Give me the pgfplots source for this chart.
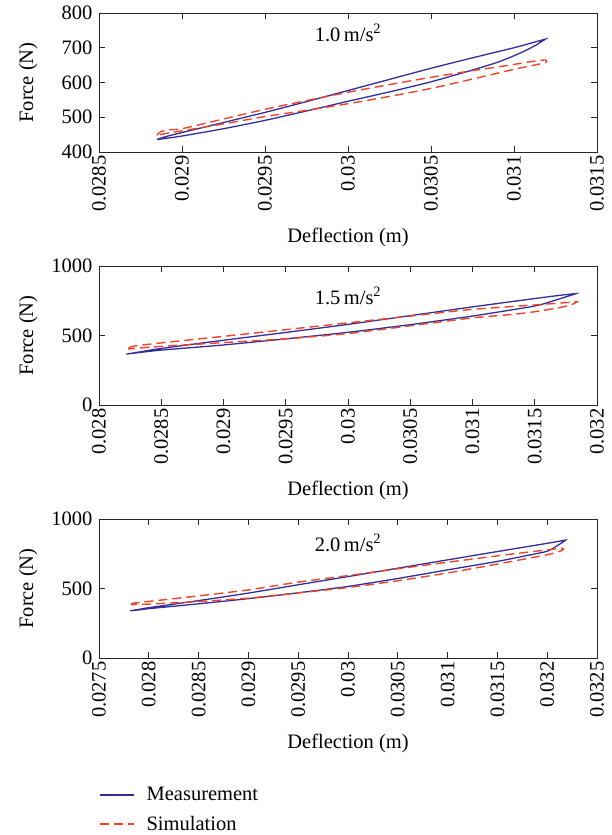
\documentclass[border=0pt]{standalone}
\usepackage{fontspec}
\setmainfont{Liberation Serif}
\usepackage{pgfplots}
\pgfplotsset{compat=1.18}
\definecolor{meas}{RGB}{50,46,152}
\definecolor{sim}{RGB}{240,68,42}
\newcommand{\ff}{\fontsize{20.5}{24}\selectfont}
\pgfplotsset{
  myax/.style={
    scale only axis, width=498pt, height=139pt,
    axis line style={draw=black!85, line width=0.8pt},
    tick style={draw=black!85, line width=0.8pt},
    tick align=inside, tick pos=both, major tick length=6pt,
    scaled ticks=false,
    ticklabel style={font=\ff},
    label style={font=\ff},
    xticklabel style={rotate=90, anchor=east},
    yticklabel style={xshift=-3pt},
    xlabel={Deflection (m)}, ylabel={Force (N)},
    xlabel style={at={(axis description cs:0.5,-0.615)}, anchor=center},
    ylabel style={at={(axis description cs:-0.142,0.5)}, anchor=center},
    /pgf/number format/assume math mode=true,
  },
  measst/.style={color=meas, line width=1.3pt, no markers, smooth, tension=0.35},
  simst/.style={color=sim, line width=1.4pt, dash pattern=on 9pt off 5pt, no markers, smooth, tension=0.35},
}
\begin{document}
\begin{tikzpicture}
\useasboundingbox (0,0) rectangle (611pt,-835pt);
% ---------- 1.0 m/s^2 ----------
\begin{axis}[myax, at={(99pt,-152pt)}, anchor=south west,
  xmin=0.0285, xmax=0.0315, ymin=400, ymax=800,
  xtick={0.0285,0.029,0.0295,0.03,0.0305,0.031,0.0315},
  xticklabels={0.0285,0.029,0.0295,0.03,0.0305,0.031,0.0315},
  ytick={400,500,600,700,800},
  yticklabels={400,500,600,700,800}]
\addplot[measst] coordinates {
(0.028848,436) (0.02890,444) (0.02900,456) (0.02925,485) (0.02950,514) (0.02975,545) (0.03000,577) (0.03025,609) (0.03050,641) (0.03075,671) (0.03100,700) (0.03110,713) (0.03116,721) (0.03119,725) (0.03117,719) (0.03113,707) (0.03107,692) (0.03100,677) (0.03090,658) (0.03075,636) (0.03050,602) (0.03025,573) (0.03000,546) (0.02975,518) (0.02950,491) (0.02925,467) (0.02900,446) (0.02890,439) (0.028848,436)};
\addplot[simst] coordinates {
(0.028848,448) (0.02887,458) (0.02892,464) (0.02900,467) (0.02925,495) (0.02950,523) (0.02975,548) (0.03000,572) (0.03025,594) (0.03050,615) (0.03075,634) (0.03100,652) (0.03110,660) (0.03119,665) (0.03119,657) (0.03110,648) (0.03100,638) (0.03075,610) (0.03050,583) (0.03025,560) (0.03000,539) (0.02975,520) (0.02950,502) (0.02925,481) (0.02900,461) (0.02890,453) (0.028848,448)};
\node[font=\ff] at (axis description cs:0.5,0.857) {1.0\,m/s\textsuperscript{2}};
\end{axis}
% ---------- 1.5 m/s^2 ----------
\begin{axis}[myax, at={(99pt,-405pt)}, anchor=south west,
  xmin=0.028, xmax=0.032, ymin=0, ymax=1000,
  xtick={0.028,0.0285,0.029,0.0295,0.03,0.0305,0.031,0.0315,0.032},
  xticklabels={0.028,0.0285,0.029,0.0295,0.03,0.0305,0.031,0.0315,0.032},
  ytick={0,500,1000}, yticklabels={0,500,1000}]
\addplot[measst] coordinates {
(0.02822,366) (0.02830,378) (0.02850,407) (0.02900,466) (0.02950,522) (0.03000,580) (0.03050,643) (0.03100,706) (0.03150,766) (0.03170,789) (0.03180,799) (0.03183,801) (0.03180,792) (0.03175,778) (0.03165,750) (0.03150,712) (0.03100,640) (0.03050,578) (0.03000,523) (0.02950,476) (0.02900,432) (0.02850,395) (0.02830,375) (0.02822,366)};
\addplot[simst] coordinates {
(0.02824,412) (0.02828,424) (0.02850,447) (0.02900,494) (0.02950,542) (0.03000,591) (0.03050,640) (0.03100,688) (0.03150,720) (0.03180,740) (0.03184,743) (0.03183,738) (0.03180,724) (0.03170,701) (0.03150,671) (0.03130,650) (0.03100,627) (0.03050,570) (0.03000,514) (0.02950,476) (0.02900,449) (0.02850,422) (0.02830,408) (0.02824,404) (0.02824,412)};
\node[font=\ff] at (axis description cs:0.5,0.784) {1.5\,m/s\textsuperscript{2}};
\end{axis}
% ---------- 2.0 m/s^2 ----------
\begin{axis}[myax, at={(99pt,-658pt)}, anchor=south west,
  xmin=0.0275, xmax=0.0325, ymin=0, ymax=1000,
  xtick={0.0275,0.028,0.0285,0.029,0.0295,0.03,0.0305,0.031,0.0315,0.032,0.0325},
  xticklabels={0.0275,0.028,0.0285,0.029,0.0295,0.03,0.0305,0.031,0.0315,0.032,0.0325},
  ytick={0,500,1000}, yticklabels={0,500,1000},
  legend style={at={(axis description cs:0,-0.915)}, anchor=north west,
    draw=none, fill=none, font=\ff, cells={anchor=west}, row sep=10pt, column sep=10pt, inner sep=0pt},
  legend image code/.code={\draw[#1,smooth=false] (2pt,0pt) -- (36pt,0pt);}]
\addplot[measst] coordinates {
(0.027814,340) (0.02790,350) (0.02800,362) (0.02850,413) (0.02900,467) (0.02950,527) (0.03000,586) (0.03050,646) (0.03100,706) (0.03150,766) (0.03200,825) (0.03213,841) (0.032186,849) (0.03218,845) (0.03215,830) (0.03210,808) (0.03200,768) (0.03169,722) (0.03150,695) (0.03100,634) (0.03050,572) (0.03000,515) (0.02950,469) (0.02900,427) (0.02850,390) (0.02800,355) (0.02790,346) (0.027814,340)};
\addlegendentry{Measurement}
\addplot[simst] coordinates {
(0.027822,384) (0.02784,394) (0.02800,407) (0.02850,447) (0.02900,490) (0.02950,546) (0.03000,593) (0.03050,642) (0.03100,689) (0.03150,735) (0.03200,778) (0.032158,789) (0.032155,776) (0.03210,762) (0.03200,743) (0.03150,676) (0.03100,612) (0.03050,556) (0.03000,507) (0.02950,468) (0.02900,431) (0.02850,406) (0.02800,388) (0.027822,384)};
\addlegendentry{Simulation}
\node[font=\ff] at (axis description cs:0.5,0.827) {2.0\,m/s\textsuperscript{2}};
\end{axis}
\end{tikzpicture}
\end{document}
